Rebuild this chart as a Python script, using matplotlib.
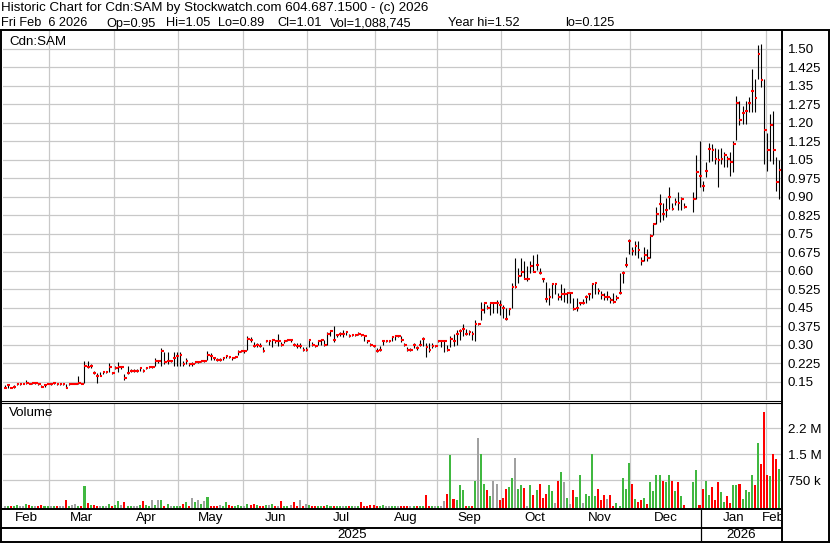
import numpy as np
import pandas as pd
import matplotlib
matplotlib.use('Agg')
import matplotlib.pyplot as plt
from matplotlib.lines import Line2D

plt.rcParams['font.family'] = ['Liberation Sans', 'DejaVu Sans']

# months shown on the axis and how many daily slots each one holds
months = ['Feb', 'Mar', 'Apr', 'May', 'Jun', 'Jul', 'Aug', 'Sep', 'Oct', 'Nov', 'Dec', 'Jan', 'Feb']
month_days = [15, 21, 21, 21, 21, 22, 20, 21, 22, 20, 23, 21, 5]
years = ['2025', '2026']
year_months = [11, 2]

nan = np.nan
# daily bars, one line per month (Dec 25/26 are empty slots)
close = [
    0.125, 0.135, 0.125, 0.13, 0.14, 0.14, 0.14, 0.145, 0.14, 0.145, 0.145, 0.14, 0.13, 0.135, 0.14,
    0.14, 0.145, 0.14, 0.14, 0.14, 0.125, 0.14, 0.14, 0.14, 0.145, 0.14, 0.215, 0.21, 0.215, 0.185, 0.175, 0.175, 0.19, 0.19, 0.21, 0.185,
    0.205, 0.21, 0.21, 0.165, 0.185, 0.195, 0.195, 0.195, 0.205, 0.195, 0.205, 0.21, 0.21, 0.235, 0.235, 0.275, 0.23, 0.235, 0.235, 0.245, 0.255,
    0.26, 0.22, 0.235, 0.22, 0.22, 0.23, 0.23, 0.235, 0.235, 0.26, 0.255, 0.245, 0.24, 0.24, 0.245, 0.255, 0.25, 0.245, 0.25, 0.27, 0.275,
    0.275, 0.325, 0.32, 0.295, 0.30, 0.295, 0.275, 0.315, 0.315, 0.32, 0.315, 0.315, 0.30, 0.315, 0.32, 0.32, 0.30, 0.295, 0.295, 0.28, 0.28,
    0.32, 0.30, 0.295, 0.315, 0.32, 0.30, 0.345, 0.355, 0.32, 0.34, 0.345, 0.345, 0.35, 0.335, 0.34, 0.34, 0.345, 0.34, 0.335, 0.315, 0.30, 0.295,
    0.275, 0.28, 0.315, 0.315, 0.315, 0.33, 0.335, 0.335, 0.32, 0.30, 0.28, 0.28, 0.30, 0.285, 0.30, 0.325, 0.29, 0.28, 0.295, 0.295,
    0.315, 0.315, 0.315, 0.28, 0.325, 0.315, 0.345, 0.355, 0.365, 0.345, 0.35, 0.345, 0.385, 0.385, 0.44, 0.47, 0.45, 0.47, 0.47, 0.47, 0.46,
    0.45, 0.405, 0.445, 0.535, 0.535, 0.58, 0.595, 0.565, 0.565, 0.62, 0.595, 0.625, 0.59, 0.565, 0.485, 0.495, 0.545, 0.545, 0.495, 0.505, 0.505, 0.51,
    0.51, 0.445, 0.45, 0.47, 0.47, 0.495, 0.505, 0.545, 0.55, 0.52, 0.50, 0.495, 0.495, 0.48, 0.475, 0.49, 0.51, 0.59, 0.625, 0.72,
    0.68, 0.70, 0.685, 0.64, 0.665, 0.65, 0.74, 0.79, 0.83, 0.87, 0.83, 0.845, 0.90, 0.85, 0.88, 0.875, 0.89, 0.86, nan, nan, 0.89, 1.00, 0.985,
    0.945, 1.005, 1.095, 1.09, 1.055, 1.05, 1.055, 1.07, 1.055, 1.04, 1.115, 1.28, 1.21, 1.24, 1.25, 1.28, 1.33, 1.30, 1.48, 1.375, 1.17,
    1.09, 1.19, 1.09, 0.96, 1.01,
]
high = [
    0.135, 0.14, 0.13, 0.135, 0.145, 0.145, 0.145, 0.155, 0.145, 0.145, 0.145, 0.145, 0.135, 0.14, 0.145,
    0.145, 0.15, 0.145, 0.145, 0.145, 0.14, 0.145, 0.145, 0.145, 0.175, 0.145, 0.235, 0.235, 0.22, 0.195, 0.185, 0.19, 0.19, 0.195, 0.225, 0.19,
    0.215, 0.23, 0.215, 0.18, 0.215, 0.20, 0.20, 0.20, 0.21, 0.20, 0.21, 0.215, 0.215, 0.245, 0.24, 0.285, 0.27, 0.27, 0.24, 0.27, 0.27,
    0.27, 0.235, 0.245, 0.225, 0.23, 0.235, 0.235, 0.24, 0.24, 0.275, 0.265, 0.25, 0.245, 0.245, 0.25, 0.26, 0.255, 0.25, 0.255, 0.28, 0.28,
    0.28, 0.335, 0.33, 0.31, 0.305, 0.305, 0.29, 0.32, 0.32, 0.325, 0.32, 0.345, 0.31, 0.32, 0.325, 0.325, 0.305, 0.305, 0.305, 0.29, 0.29,
    0.325, 0.31, 0.30, 0.32, 0.325, 0.32, 0.35, 0.36, 0.375, 0.345, 0.35, 0.36, 0.355, 0.345, 0.345, 0.345, 0.35, 0.345, 0.34, 0.32, 0.305, 0.30,
    0.285, 0.295, 0.32, 0.32, 0.32, 0.335, 0.34, 0.34, 0.335, 0.305, 0.29, 0.285, 0.305, 0.295, 0.32, 0.33, 0.305, 0.305, 0.305, 0.30,
    0.32, 0.32, 0.32, 0.30, 0.335, 0.345, 0.36, 0.365, 0.385, 0.365, 0.36, 0.355, 0.40, 0.39, 0.475, 0.475, 0.46, 0.475, 0.475, 0.48, 0.48,
    0.46, 0.45, 0.45, 0.55, 0.65, 0.61, 0.65, 0.64, 0.62, 0.64, 0.665, 0.67, 0.61, 0.57, 0.555, 0.53, 0.55, 0.55, 0.51, 0.545, 0.53, 0.515,
    0.515, 0.49, 0.49, 0.475, 0.485, 0.50, 0.51, 0.55, 0.555, 0.53, 0.52, 0.51, 0.52, 0.495, 0.51, 0.50, 0.59, 0.60, 0.655, 0.73,
    0.695, 0.72, 0.72, 0.655, 0.695, 0.69, 0.75, 0.79, 0.86, 0.91, 0.875, 0.895, 0.94, 0.875, 0.895, 0.92, 0.90, 0.875, nan, nan, 0.92, 1.07, 1.125,
    0.965, 1.04, 1.12, 1.115, 1.10, 1.095, 1.10, 1.08, 1.065, 1.08, 1.125, 1.31, 1.29, 1.27, 1.29, 1.305, 1.42, 1.38, 1.515, 1.52, 1.38,
    1.16, 1.235, 1.25, 1.06, 1.05,
]
low = [
    0.125, 0.125, 0.125, 0.125, 0.135, 0.135, 0.14, 0.14, 0.14, 0.14, 0.14, 0.135, 0.13, 0.13, 0.14,
    0.135, 0.14, 0.135, 0.135, 0.135, 0.125, 0.135, 0.14, 0.14, 0.14, 0.14, 0.145, 0.205, 0.205, 0.18, 0.145, 0.175, 0.18, 0.185, 0.19, 0.18,
    0.20, 0.19, 0.20, 0.155, 0.18, 0.19, 0.19, 0.19, 0.195, 0.19, 0.20, 0.205, 0.205, 0.215, 0.225, 0.215, 0.22, 0.22, 0.23, 0.215, 0.215,
    0.215, 0.215, 0.22, 0.215, 0.215, 0.225, 0.225, 0.23, 0.23, 0.24, 0.24, 0.24, 0.235, 0.235, 0.24, 0.245, 0.245, 0.24, 0.245, 0.26, 0.27,
    0.265, 0.28, 0.31, 0.29, 0.29, 0.29, 0.27, 0.31, 0.30, 0.29, 0.305, 0.295, 0.295, 0.305, 0.315, 0.31, 0.295, 0.285, 0.285, 0.275, 0.275,
    0.29, 0.295, 0.29, 0.30, 0.30, 0.295, 0.30, 0.335, 0.31, 0.33, 0.335, 0.33, 0.34, 0.33, 0.335, 0.335, 0.34, 0.335, 0.315, 0.305, 0.295, 0.29,
    0.27, 0.275, 0.30, 0.31, 0.31, 0.315, 0.32, 0.33, 0.31, 0.295, 0.275, 0.275, 0.285, 0.28, 0.295, 0.295, 0.25, 0.27, 0.285, 0.29,
    0.31, 0.29, 0.27, 0.275, 0.29, 0.295, 0.30, 0.32, 0.335, 0.34, 0.34, 0.32, 0.315, 0.38, 0.40, 0.43, 0.445, 0.42, 0.43, 0.43, 0.42,
    0.41, 0.40, 0.42, 0.45, 0.53, 0.55, 0.58, 0.565, 0.56, 0.59, 0.595, 0.605, 0.585, 0.555, 0.475, 0.46, 0.49, 0.505, 0.48, 0.48, 0.475, 0.47,
    0.47, 0.44, 0.435, 0.46, 0.465, 0.47, 0.48, 0.49, 0.505, 0.505, 0.485, 0.48, 0.48, 0.47, 0.47, 0.48, 0.505, 0.55, 0.615, 0.67,
    0.665, 0.665, 0.65, 0.625, 0.64, 0.64, 0.65, 0.745, 0.79, 0.80, 0.805, 0.82, 0.85, 0.845, 0.865, 0.845, 0.845, 0.855, nan, nan, 0.84, 0.89, 0.94,
    0.925, 0.98, 1.04, 1.045, 1.035, 0.94, 1.035, 1.02, 1.02, 0.985, 1.00, 1.13, 1.19, 1.195, 1.195, 1.245, 1.245, 1.245, 1.38, 1.345, 1.035,
    1.005, 1.045, 1.035, 0.925, 0.89,
]
# volume in millions of shares
volume = [
    0.02, 0.01, 0.02, 0.01, 0.03, 0.01, 0.01, 0.06, 0.03, 0.01, 0.01, 0.02, 0.04, 0.02, 0.01,
    0.01, 0.01, 0.02, 0.01, 0.01, 0.18, 0.01, 0.04, 0.08, 0.02, 0.01, 0.59, 0.10, 0.04, 0.04, 0.01, 0.01, 0.01, 0.01, 0.08, 0.01,
    0.04, 0.15, 0.04, 0.12, 0.01, 0.01, 0.02, 0.01, 0.04, 0.15, 0.04, 0.02, 0.17, 0.04, 0.18, 0.18, 0.01, 0.08, 0.01, 0.01, 0.01,
    0.01, 0.08, 0.12, 0.02, 0.24, 0.12, 0.17, 0.06, 0.15, 0.28, 0.01, 0.01, 0.01, 0.04, 0.01, 0.12, 0.04, 0.01, 0.01, 0.04, 0.02,
    0.01, 0.08, 0.04, 0.08, 0.04, 0.01, 0.01, 0.04, 0.04, 0.08, 0.01, 0.01, 0.15, 0.01, 0.01, 0.04, 0.11, 0.01, 0.18, 0.01, 0.08,
    0.04, 0.01, 0.01, 0.02, 0.01, 0.01, 0.04, 0.01, 0.02, 0.01, 0.01, 0.01, 0.01, 0.01, 0.01, 0.01, 0.01, 0.11, 0.01, 0.01, 0.04, 0.04,
    0.02, 0.01, 0.04, 0.01, 0.01, 0.01, 0.01, 0.01, 0.01, 0.01, 0.01, 0.01, 0.01, 0.01, 0.02, 0.01, 0.33, 0.02, 0.01, 0.01,
    0.01, 0.01, 0.15, 0.36, 1.48, 0.21, 0.18, 0.62, 0.47, 0.02, 0.01, 0.02, 0.73, 1.98, 1.50, 0.63, 0.47, 0.30, 0.73, 0.63, 0.18,
    0.23, 0.50, 0.55, 0.81, 1.38, 0.50, 0.60, 0.52, 0.02, 0.62, 0.33, 0.47, 0.63, 0.25, 0.36, 0.60, 0.44, 0.09, 0.73, 0.98, 0.69, 0.23,
    0.07, 0.47, 0.28, 0.90, 0.09, 0.36, 0.30, 1.50, 0.30, 0.50, 0.17, 0.33, 0.21, 0.33, 0.01, 0.09, 0.01, 0.81, 0.50, 1.24,
    0.63, 0.21, 0.13, 0.17, 0.23, 0.08, 0.69, 0.44, 0.90, 0.90, 0.73, 0.69, 0.90, 0.73, 0.44, 0.69, 0.30, 0.04, nan, nan, 0.69, 1.05, 0.03,
    0.50, 0.73, 0.33, 0.56, 0.18, 0.69, 0.40, 0.13, 0.30, 0.09, 0.62, 0.62, 0.63, 0.21, 0.47, 0.42, 0.90, 0.60, 1.82, 1.22, 2.73,
    0.90, 0.86, 1.50, 1.37, 1.088745,
]

price_ticks = [0.15, 0.225, 0.30, 0.375, 0.45, 0.525, 0.60, 0.675, 0.75, 0.825,
               0.90, 0.975, 1.05, 1.125, 1.20, 1.275, 1.35, 1.425, 1.50]
vol_ticks = [0.75, 1.5, 2.25]
vol_tick_labels = ['750 k', '1.5 M', '2.2 M']

header1 = 'Historic Chart for Cdn:SAM by Stockwatch.com 604.687.1500 - (c) 2026'
header2 = ['Fri Feb  6 2026', 'Op=0.95', 'Hi=1.05', 'Lo=0.89', 'Cl=1.01',
           'Vol=1,088,745', 'Year hi=1.52', 'lo=0.125']
header2_px = [1, 106, 166, 218, 277, 330, 448, 565]

assert len(close) == len(high) == len(low) == len(volume) == sum(month_days)

close = np.array(close)
high = np.array(high)
low = np.array(low)
volume = np.array(volume)
x = np.arange(len(close))

# bar colour from the change against the previous traded close
prev = pd.Series(close).ffill().shift(1).to_numpy()
chg = np.round(close - prev, 4)
vcol = np.where(chg > 0, '#40b840', np.where(chg < 0, '#ff0000', '#a0a0a0'))

starts = np.concatenate([[0], np.cumsum(month_days)]) - 0.5
centers = (starts[:-1] + starts[1:]) / 2
ystarts = starts[np.concatenate([[0], np.cumsum(year_months)])]
ycenters = (ystarts[:-1] + ystarts[1:]) / 2

W, H = 830, 543
FS = 9.6
fig = plt.figure(figsize=(W / 100, H / 100), dpi=100)


def box(x0, y0, x1, y1):
    return [x0 / W, 1 - y1 / H, (x1 - x0) / W, (y1 - y0) / H]


def rule(x0, y0, x1, y1, lw=1.4):
    fig.add_artist(Line2D([x0 / W, x1 / W], [1 - y0 / H, 1 - y1 / H],
                          color='black', lw=lw, solid_capstyle='butt'))


grid_col = '#c8c8c8'
xlim = (-0.5, len(close) - 0.5)

# price panel
ax = fig.add_axes(box(3, 31, 781, 400))
ax.vlines(x, low, high, color='black', lw=0.8)
ax.hlines(close, x - 0.1, x + 0.8, color='#ff0000', lw=1.5)
ax.set_xlim(xlim)
ax.set_ylim(0.0757, 1.573)
ax.set_yticks(price_ticks)
ax.set_yticklabels([('%.3f' % v).rstrip('0') if round(v * 100) != v * 100 else '%.2f' % v
                    for v in price_ticks])
ax.set_xticks(starts[1:-1])
ax.set_xticklabels([])
ax.yaxis.tick_right()
ax.tick_params(length=0, labelsize=FS, pad=5)
ax.grid(True, color=grid_col, lw=0.9)
ax.set_axisbelow(True)
for s in ax.spines.values():
    s.set_visible(False)

# volume panel
axv = fig.add_axes(box(3, 403, 781, 509))
vbase = -0.078
axv.bar(x, volume - vbase, bottom=vbase, width=0.66, color=vcol)
axv.set_xlim(xlim)
axv.set_ylim(vbase, 2.98)
axv.set_yticks(vol_ticks)
axv.set_yticklabels(vol_tick_labels)
axv.set_xticks(starts[1:-1])
axv.set_xticklabels([])
axv.yaxis.tick_right()
axv.tick_params(length=0, labelsize=FS, pad=5)
axv.grid(True, color=grid_col, lw=0.9)
axv.set_axisbelow(True)
for s in axv.spines.values():
    s.set_visible(False)

# month / year rows
axl = fig.add_axes(box(3, 509, 781, 541))
axl.set_xlim(xlim)
axl.set_ylim(0, 1)
axl.axis('off')
for c, m in zip(centers, months):
    axl.text(c, 0.71, m, ha='center', va='center', fontsize=FS, clip_on=True)
for c, yr in zip(ycenters, years):
    axl.text(c, 0.2, yr, ha='center', va='center', fontsize=FS, clip_on=True)

fig.text(9 / W, 1 - 42 / H, 'Cdn:SAM', fontsize=FS, va='center')
fig.text(9 / W, 1 - 413 / H, 'Volume', fontsize=FS, va='center')
fig.text(1 / W, 1 - 11.5 / H, header1, fontsize=FS, va='baseline')
for px, t in zip(header2_px, header2):
    fig.text(px / W, 1 - 26.5 / H, t, fontsize=9.2, va='baseline')

# frame
rule(0, 30, W, 30)
rule(1, 30, 1, 542)
rule(W - 1, 30, W - 1, 542)
rule(781.5, 30, 781.5, 542)
rule(0, 400.5, 781, 400.5, lw=0.8)
rule(0, 402.5, 781, 402.5, lw=0.8)
rule(0, 509, 781, 509)
rule(0, 527.5, 781, 527.5)
rule(0, 541.5, W, 541.5)
jan_px = 3 + (starts[11] - xlim[0]) / (xlim[1] - xlim[0]) * 778
rule(jan_px, 509, jan_px, 541, lw=0.9)

fig.savefig('out.png', dpi=100)
